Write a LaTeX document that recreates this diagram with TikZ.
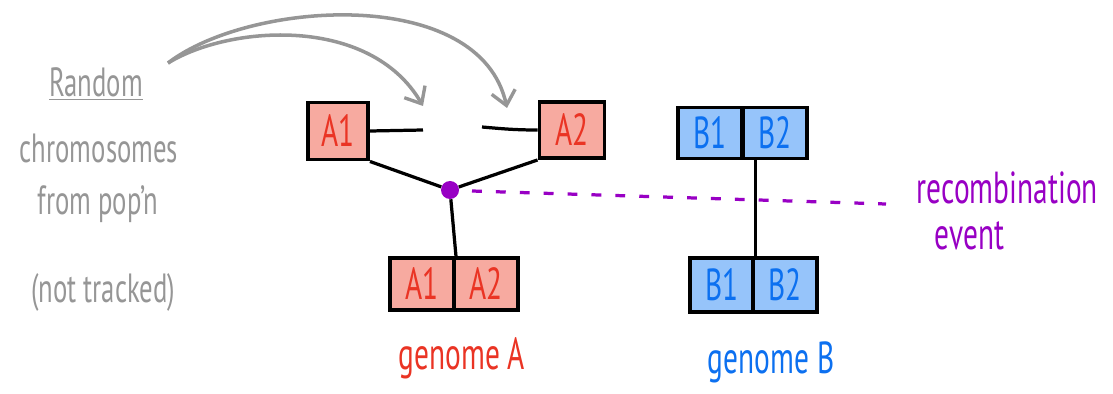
\documentclass[tikz,border=0pt]{standalone}
\usepackage{fontspec}
\setmainfont{PT Sans}
\usepackage{tikz}
\usetikzlibrary{arrows.meta,positioning,calc}
\usepackage{xcolor}
\definecolor{pinkfill}{RGB}{247,170,160}
\definecolor{redtext}{RGB}{234,52,36}
\definecolor{bluefill}{RGB}{150,196,250}
\definecolor{bluetext}{RGB}{12,112,240}
\definecolor{recpurple}{RGB}{152,0,196}
\definecolor{notegray}{RGB}{150,150,150}
% tall, narrow lettering
\newcommand{\hand}[1]{\scalebox{0.95}[1.45]{#1}}
\tikzset{
    chromnode/.style={
        rectangle,
        draw,
        line width=2.8pt,
        minimum width=1.6cm,
        minimum height=1.3cm,
        font=\fontsize{22}{24}\selectfont,
        text centered
    },
    chromA/.style={
        chromnode,
        fill=pinkfill,
        text=redtext
    },
    chromB/.style={
        chromnode,
        fill=bluefill,
        text=bluetext
    },
    link/.style={
        line width=2.3pt
    },
    pick/.style={
        -{Straight Barb[length=3.5mm,width=6mm,line width=2.4pt]},
        notegray,
        line width=2.5pt
    },
    note/.style={
        notegray,
        font=\fontsize{20}{22}\selectfont
    },
    label/.style={
        font=\fontsize{22}{24}\selectfont
    }
}

\begin{document}
\begin{tikzpicture}[x=0.025cm,y=-0.025cm]
    \useasboundingbox (0,0) rectangle (1113,394);

    % Sampled chromosomes
    \node[chromA,minimum width=1.5cm,minimum height=1.425cm] (A1top) at (338,131) {\hand{A1}};
    \node[chromA,minimum width=1.625cm,minimum height=1.4cm] (A2top) at (572,130) {\hand{A2}};
    \coordinate (A1end) at (423,130);
    \coordinate (A2end) at (482,127);
    \draw[link] (A1top.east) -- (A1end);
    \draw[link] (A2end) to[out=-5,in=180] (A2top.west);

    % Recombination point
    \node[circle,fill=recpurple,inner sep=0pt,minimum size=0.45cm] (rec) at (450,190) {};
    \draw[link] (A1top.south east) -- (rec);
    \draw[link] (A2top.south west) -- (rec);

    % Genome A
    \node[chromA] (A1bot) at (422,284) {\hand{A1}};
    \node[chromA] (A2bot) at (486,284) {\hand{A2}};
    \draw[link] (rec) -- (A1bot.north east);
    \node[label,text=redtext] (genA) at (462,358) {\hand{genome A}};

    % Genome B
    \node[chromB,minimum width=1.6125cm,minimum height=1.275cm] (B1top) at (710,133) {\hand{B1}};
    \node[chromB,minimum width=1.6125cm,minimum height=1.275cm] (B2top) at (775,133) {\hand{B2}};
    \node[chromB,minimum width=1.5875cm,minimum height=1.35cm] (B1bot) at (722,285) {\hand{B1}};
    \node[chromB,minimum width=1.5875cm,minimum height=1.35cm] (B2bot) at (785,285) {\hand{B2}};
    \draw[link] (B1bot.north east |- B1top.south) -- (B1bot.north east);
    \node[label,text=bluetext] (genB) at (771,362) {\hand{genome B}};

    % Recombination event
    \coordinate (recEnd) at (886,204);
    \draw[recpurple,line width=2.3pt,dash pattern=on 7pt off 10pt] ($(rec)+(22,1)$) -- (recEnd);
    \node[label,text=recpurple,anchor=west] (recText) at (912,188) {\hand{recombination}};
    \node[label,text=recpurple,anchor=west] (eventText) at (930,236) {\hand{event}};

    % Source population
    \node[note] (rand) at (96,84) {\hand{\underline{Random}}};
    \node[note] (chrom) at (99,148) {\hand{chromosomes}};
    \node[note] (pop) at (98,204) {\hand{from pop'n}};
    \node[note] (track) at (103,292) {\hand{(not tracked)}};
    \coordinate (src) at (168,63);
    \draw[pick] (src) .. controls (230,25) and (370,15) .. (A1end |- 0,106);
    \draw[pick] (src) .. controls (250,0) and (480,-15) .. (507,108);
\end{tikzpicture}
\end{document}
